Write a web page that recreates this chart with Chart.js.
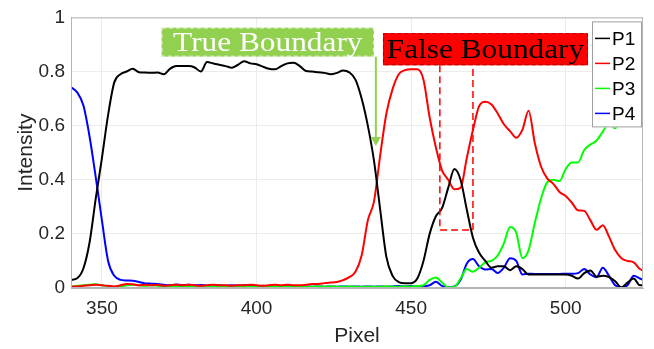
<!DOCTYPE html>
<html>
<head>
<meta charset="utf-8">
<script src="https://cdn.jsdelivr.net/npm/chart.js@4.4.0/dist/chart.umd.min.js"></script>
<style>
  html, body { margin: 0; padding: 0; background: #fff; }
</style>
</head>
<body>
<canvas id="myChart" width="654" height="349"></canvas>
<script>
// pixel positions (x axis)
const pixels = [340, 342, 344, 346, 348, 350, 352, 354, 356, 358,
  360, 362, 364, 366, 368, 370, 372, 374, 376, 378,
  380, 382, 384, 386, 388, 390, 392, 394, 396, 398,
  400, 402, 404, 406, 408, 410, 412, 414, 416, 418,
  420, 422, 424, 426, 428, 430, 432, 434, 436, 438,
  440, 442, 444, 446, 448, 450, 452, 454, 456, 458,
  460, 462, 464, 466, 468, 470, 472, 474, 476, 478,
  480, 482, 484, 486, 488, 490, 492, 494, 496, 498,
  500, 502, 504, 506, 508, 510, 512, 514, 516, 518,
  520, 522, 524, 525];

const p1 = [0.03, 0.036, 0.072, 0.168, 0.33, 0.48, 0.64, 0.76, 0.79, 0.80,
  0.81, 0.797, 0.796, 0.795, 0.796, 0.79, 0.81, 0.82, 0.82, 0.82,
  0.815, 0.80, 0.835, 0.83, 0.825, 0.82, 0.814, 0.825, 0.838, 0.83,
  0.827, 0.818, 0.81, 0.808, 0.82, 0.83, 0.832, 0.82, 0.802, 0.80,
  0.797, 0.795, 0.79, 0.795, 0.804, 0.797, 0.77, 0.70, 0.60, 0.47,
  0.29, 0.115, 0.045, 0.022, 0.018, 0.018, 0.035, 0.10, 0.20, 0.265,
  0.295, 0.37, 0.44, 0.40, 0.29, 0.186, 0.13, 0.10, 0.075, 0.08,
  0.08, 0.066, 0.08, 0.07, 0.05, 0.05, 0.05, 0.05, 0.05, 0.05,
  0.05, 0.045, 0.035, 0.055, 0.065, 0.042, 0.045, 0.04, 0.025, 0.002,
  0.02, 0.035, 0.01, 0.01];

const p2 = [0.005, 0.006, 0.008, 0.01, 0.012, 0.01, 0.008, 0.006, 0.01, 0.015,
  0.014, 0.01, 0.012, 0.01, 0.012, 0.008, 0.01, 0.012, 0.01, 0.012,
  0.01, 0.008, 0.01, 0.012, 0.01, 0.01, 0.008, 0.01, 0.01, 0.012,
  0.01, 0.008, 0.01, 0.012, 0.01, 0.012, 0.01, 0.01, 0.012, 0.015,
  0.015, 0.018, 0.02, 0.022, 0.029, 0.04, 0.06, 0.12, 0.25, 0.32,
  0.49, 0.645, 0.735, 0.79, 0.805, 0.808, 0.808, 0.77, 0.63, 0.52,
  0.435, 0.40, 0.365, 0.37, 0.48, 0.584, 0.672, 0.688, 0.678, 0.645,
  0.605, 0.58, 0.555, 0.585, 0.655, 0.536, 0.45, 0.405, 0.385, 0.355,
  0.34, 0.315, 0.287, 0.285, 0.25, 0.215, 0.232, 0.19, 0.14, 0.11,
  0.10, 0.095, 0.07, 0.065];

const p3 = [0.005, 0.008, 0.01, 0.012, 0.014, 0.01, 0.006, 0.0, 0.004, 0.01,
  0.012, 0.01, 0.008, 0.01, 0.008, 0.006, 0.005, 0.007, 0.006, 0.005,
  0.008, 0.006, 0.005, 0.007, 0.006, 0.005, 0.006, 0.008, 0.006, 0.005,
  0.004, 0.006, 0.005, 0.007, 0.006, 0.005, 0.006, 0.005, 0.004, 0.005,
  0.006, 0.005, 0.006, 0.005, 0.005, 0.006, 0.005, 0.004, 0.005, 0.005,
  0.005, 0.006, 0.005, 0.005, 0.006, 0.006, 0.007, 0.01, 0.03, 0.039,
  0.02, 0.003, 0.005, 0.035, 0.07, 0.06, 0.075, 0.095, 0.10, 0.12,
  0.165, 0.225, 0.205, 0.11, 0.14, 0.24, 0.33, 0.39, 0.40, 0.395,
  0.44, 0.464, 0.464, 0.51, 0.53, 0.545, 0.578, 0.61, 0.59, 0.635,
  0.68, 0.72, 0.75, 0.74];

const p4 = [0.742, 0.723, 0.675, 0.56, 0.41, 0.25, 0.10, 0.045, 0.03, 0.028,
  0.027, 0.022, 0.017, 0.016, 0.015, 0.012, 0.01, 0.013, 0.011, 0.012,
  0.01, 0.011, 0.009, 0.01, 0.01, 0.008, 0.01, 0.009, 0.01, 0.008,
  0.007, 0.008, 0.007, 0.006, 0.007, 0.006, 0.007, 0.006, 0.006, 0.005,
  0.006, 0.005, 0.006, 0.005, 0.006, 0.005, 0.006, 0.005, 0.006, 0.005,
  0.006, 0.005, 0.006, 0.007, 0.006, 0.007, 0.006, 0.007, 0.01, 0.023,
  0.008, 0.003, 0.006, 0.03, 0.09, 0.107, 0.08, 0.068, 0.07, 0.055,
  0.075, 0.11, 0.10, 0.05, 0.053, 0.052, 0.052, 0.052, 0.052, 0.052,
  0.053, 0.053, 0.055, 0.07, 0.05, 0.04, 0.075, 0.045, 0.01, 0.003,
  0.01, 0.045, 0.035, 0.03];

const seriesNames = ['P1', 'P2', 'P3', 'P4'];
const seriesColors = ['#000000', '#ff0000', '#00ff00', '#0000ff'];
const xTicks = [350, 400, 450, 500];
const yTicks = [0, 0.2, 0.4, 0.6, 0.8, 1];

// annotation boxes, in data units
const trueBoundary = { text: 'True Boundary', x0: 369.3, x1: 438.0, y0: 0.855, y1: 0.962, arrowX: 438.6, arrowY: 0.525 };
const falseBoundary = { text: 'False Boundary', x0: 440.9, x1: 507.2, y0: 0.823, y1: 0.942, rectX0: 459.3, rectX1: 470.0, rectY0: 0.214 };

const sans = "'Liberation Sans', Arial, sans-serif";
const serif = "'Liberation Serif', 'Times New Roman', serif";
const textColor = '#262626';

function toPoints(ys) {
  return pixels.map((x, i) => ({ x: x, y: ys[i] }));
}

// draws the two boundary callouts, the box frame and the legend on top of the lines
const overlayPlugin = {
  id: 'overlay',
  afterDatasetsDraw(chart) {
    const ctx = chart.ctx;
    const xs = chart.scales.x;
    const ys = chart.scales.y;
    const area = chart.chartArea;
    ctx.save();

    // dashed window for the false boundary
    const fb = falseBoundary;
    const rx0 = xs.getPixelForValue(fb.rectX0);
    const rx1 = xs.getPixelForValue(fb.rectX1);
    const ry0 = ys.getPixelForValue(fb.rectY0);
    const ryTop = ys.getPixelForValue(fb.y0);
    ctx.strokeStyle = '#ff0000';
    ctx.lineWidth = 1.5;
    ctx.setLineDash([7, 4]);
    ctx.beginPath();
    ctx.moveTo(rx0, ryTop);
    ctx.lineTo(rx0, ry0);
    ctx.lineTo(rx1, ry0);
    ctx.lineTo(rx1, ryTop);
    ctx.stroke();
    ctx.setLineDash([]);

    // green arrow
    const tb = trueBoundary;
    const ax = xs.getPixelForValue(tb.arrowX);
    const ay = ys.getPixelForValue(tb.arrowY);
    const boxBottom = ys.getPixelForValue(tb.y0);
    ctx.strokeStyle = '#92d050';
    ctx.fillStyle = '#92d050';
    ctx.lineWidth = 2;
    ctx.beginPath();
    ctx.moveTo(ax, boxBottom);
    ctx.lineTo(ax, ay - 8);
    ctx.stroke();
    ctx.beginPath();
    ctx.moveTo(ax - 5, ay - 9);
    ctx.lineTo(ax + 5, ay - 9);
    ctx.lineTo(ax, ay);
    ctx.closePath();
    ctx.fill();

    function callout(b, fill, border, color) {
      const x0 = xs.getPixelForValue(b.x0);
      const x1 = xs.getPixelForValue(b.x1);
      const y0 = ys.getPixelForValue(b.y1);
      const y1 = ys.getPixelForValue(b.y0);
      ctx.fillStyle = fill;
      ctx.fillRect(x0, y0, x1 - x0, y1 - y0);
      ctx.strokeStyle = border;
      ctx.lineWidth = 1;
      ctx.setLineDash([4, 3]);
      ctx.strokeRect(x0 + 0.5, y0 + 0.5, x1 - x0 - 1, y1 - y0 - 1);
      ctx.setLineDash([]);
      ctx.save();
      ctx.translate((x0 + x1) / 2, (y0 + y1) / 2 + 9);
      ctx.scale(1.16, 1);
      ctx.fillStyle = color;
      ctx.font = '27px ' + serif;
      ctx.textAlign = 'center';
      ctx.textBaseline = 'alphabetic';
      ctx.fillText(b.text, 0, 0);
      ctx.restore();
    }
    callout(tb, '#92d050', 'rgba(255,255,255,0.7)', '#ffffff');
    callout(fb, '#ff0000', '#b00000', '#000000');

    // box around the axes
    ctx.strokeStyle = '#b4b4b4';
    ctx.lineWidth = 1;
    ctx.strokeRect(area.left + 0.5, area.top + 0.5, area.right - area.left - 1, area.bottom - area.top - 1);

    // legend
    const lw = 50, lh = 106;
    const lx = area.right - lw - 1;
    const ly = area.top + 4;
    ctx.fillStyle = '#ffffff';
    ctx.fillRect(lx, ly, lw, lh);
    ctx.strokeStyle = '#a0a0a0';
    ctx.strokeRect(lx + 0.5, ly + 0.5, lw - 1, lh - 1);
    ctx.font = '19px ' + sans;
    ctx.textAlign = 'left';
    ctx.textBaseline = 'middle';
    chart.data.datasets.forEach((ds, i) => {
      const cy = ly + 17 + i * 25;
      ctx.strokeStyle = ds.borderColor;
      ctx.lineWidth = 1.5;
      ctx.beginPath();
      ctx.moveTo(lx + 3, cy);
      ctx.lineTo(lx + 18, cy);
      ctx.stroke();
      ctx.fillStyle = '#000000';
      ctx.fillText(ds.label, lx + 20, cy + 1);
    });
    ctx.restore();
  }
};

const elementThatHoldsChart = document.getElementById('myChart');
const myChart = new Chart(elementThatHoldsChart, {
  type: 'line',
  data: {
    datasets: [p1, p2, p3, p4].map((ys, i) => ({
      label: seriesNames[i],
      data: toPoints(ys),
      borderColor: seriesColors[i],
      backgroundColor: seriesColors[i],
      borderWidth: 2,
      pointRadius: 0,
      fill: false,
      cubicInterpolationMode: 'monotone'
    }))
  },
  options: {
    responsive: false,
    animation: false,
    devicePixelRatio: 1,
    layout: { padding: { left: 0, top: 12, right: 11, bottom: 0 } },
    plugins: { legend: { display: false }, tooltip: { enabled: false } },
    scales: {
      x: {
        type: 'linear',
        min: 340,
        max: 525,
        afterBuildTicks: s => { s.ticks = xTicks.map(v => ({ value: v })); },
        afterFit: s => { s.height = 61; },
        grid: { color: '#ececec', drawTicks: false },
        border: { display: true, color: '#b4b4b4' },
        ticks: { color: textColor, font: { family: sans, size: 19 }, padding: 9, maxRotation: 0, autoSkip: false },
        title: { display: true, text: 'Pixel', color: textColor, font: { family: sans, size: 21 }, padding: { top: 0, bottom: 0 } }
      },
      y: {
        min: 0,
        max: 1,
        afterBuildTicks: s => { s.ticks = yTicks.map(v => ({ value: v })); },
        afterFit: s => { s.width = 71; },
        grid: { color: '#ececec', drawTicks: false },
        border: { display: true, color: '#b4b4b4' },
        ticks: { color: textColor, font: { family: sans, size: 19 }, padding: 6, callback: v => String(v) },
        title: { display: true, text: 'Intensity', color: textColor, font: { family: sans, size: 21 }, padding: { top: 14, bottom: 0 } }
      }
    }
  },
  plugins: [overlayPlugin]
});
</script>
</body>
</html>
